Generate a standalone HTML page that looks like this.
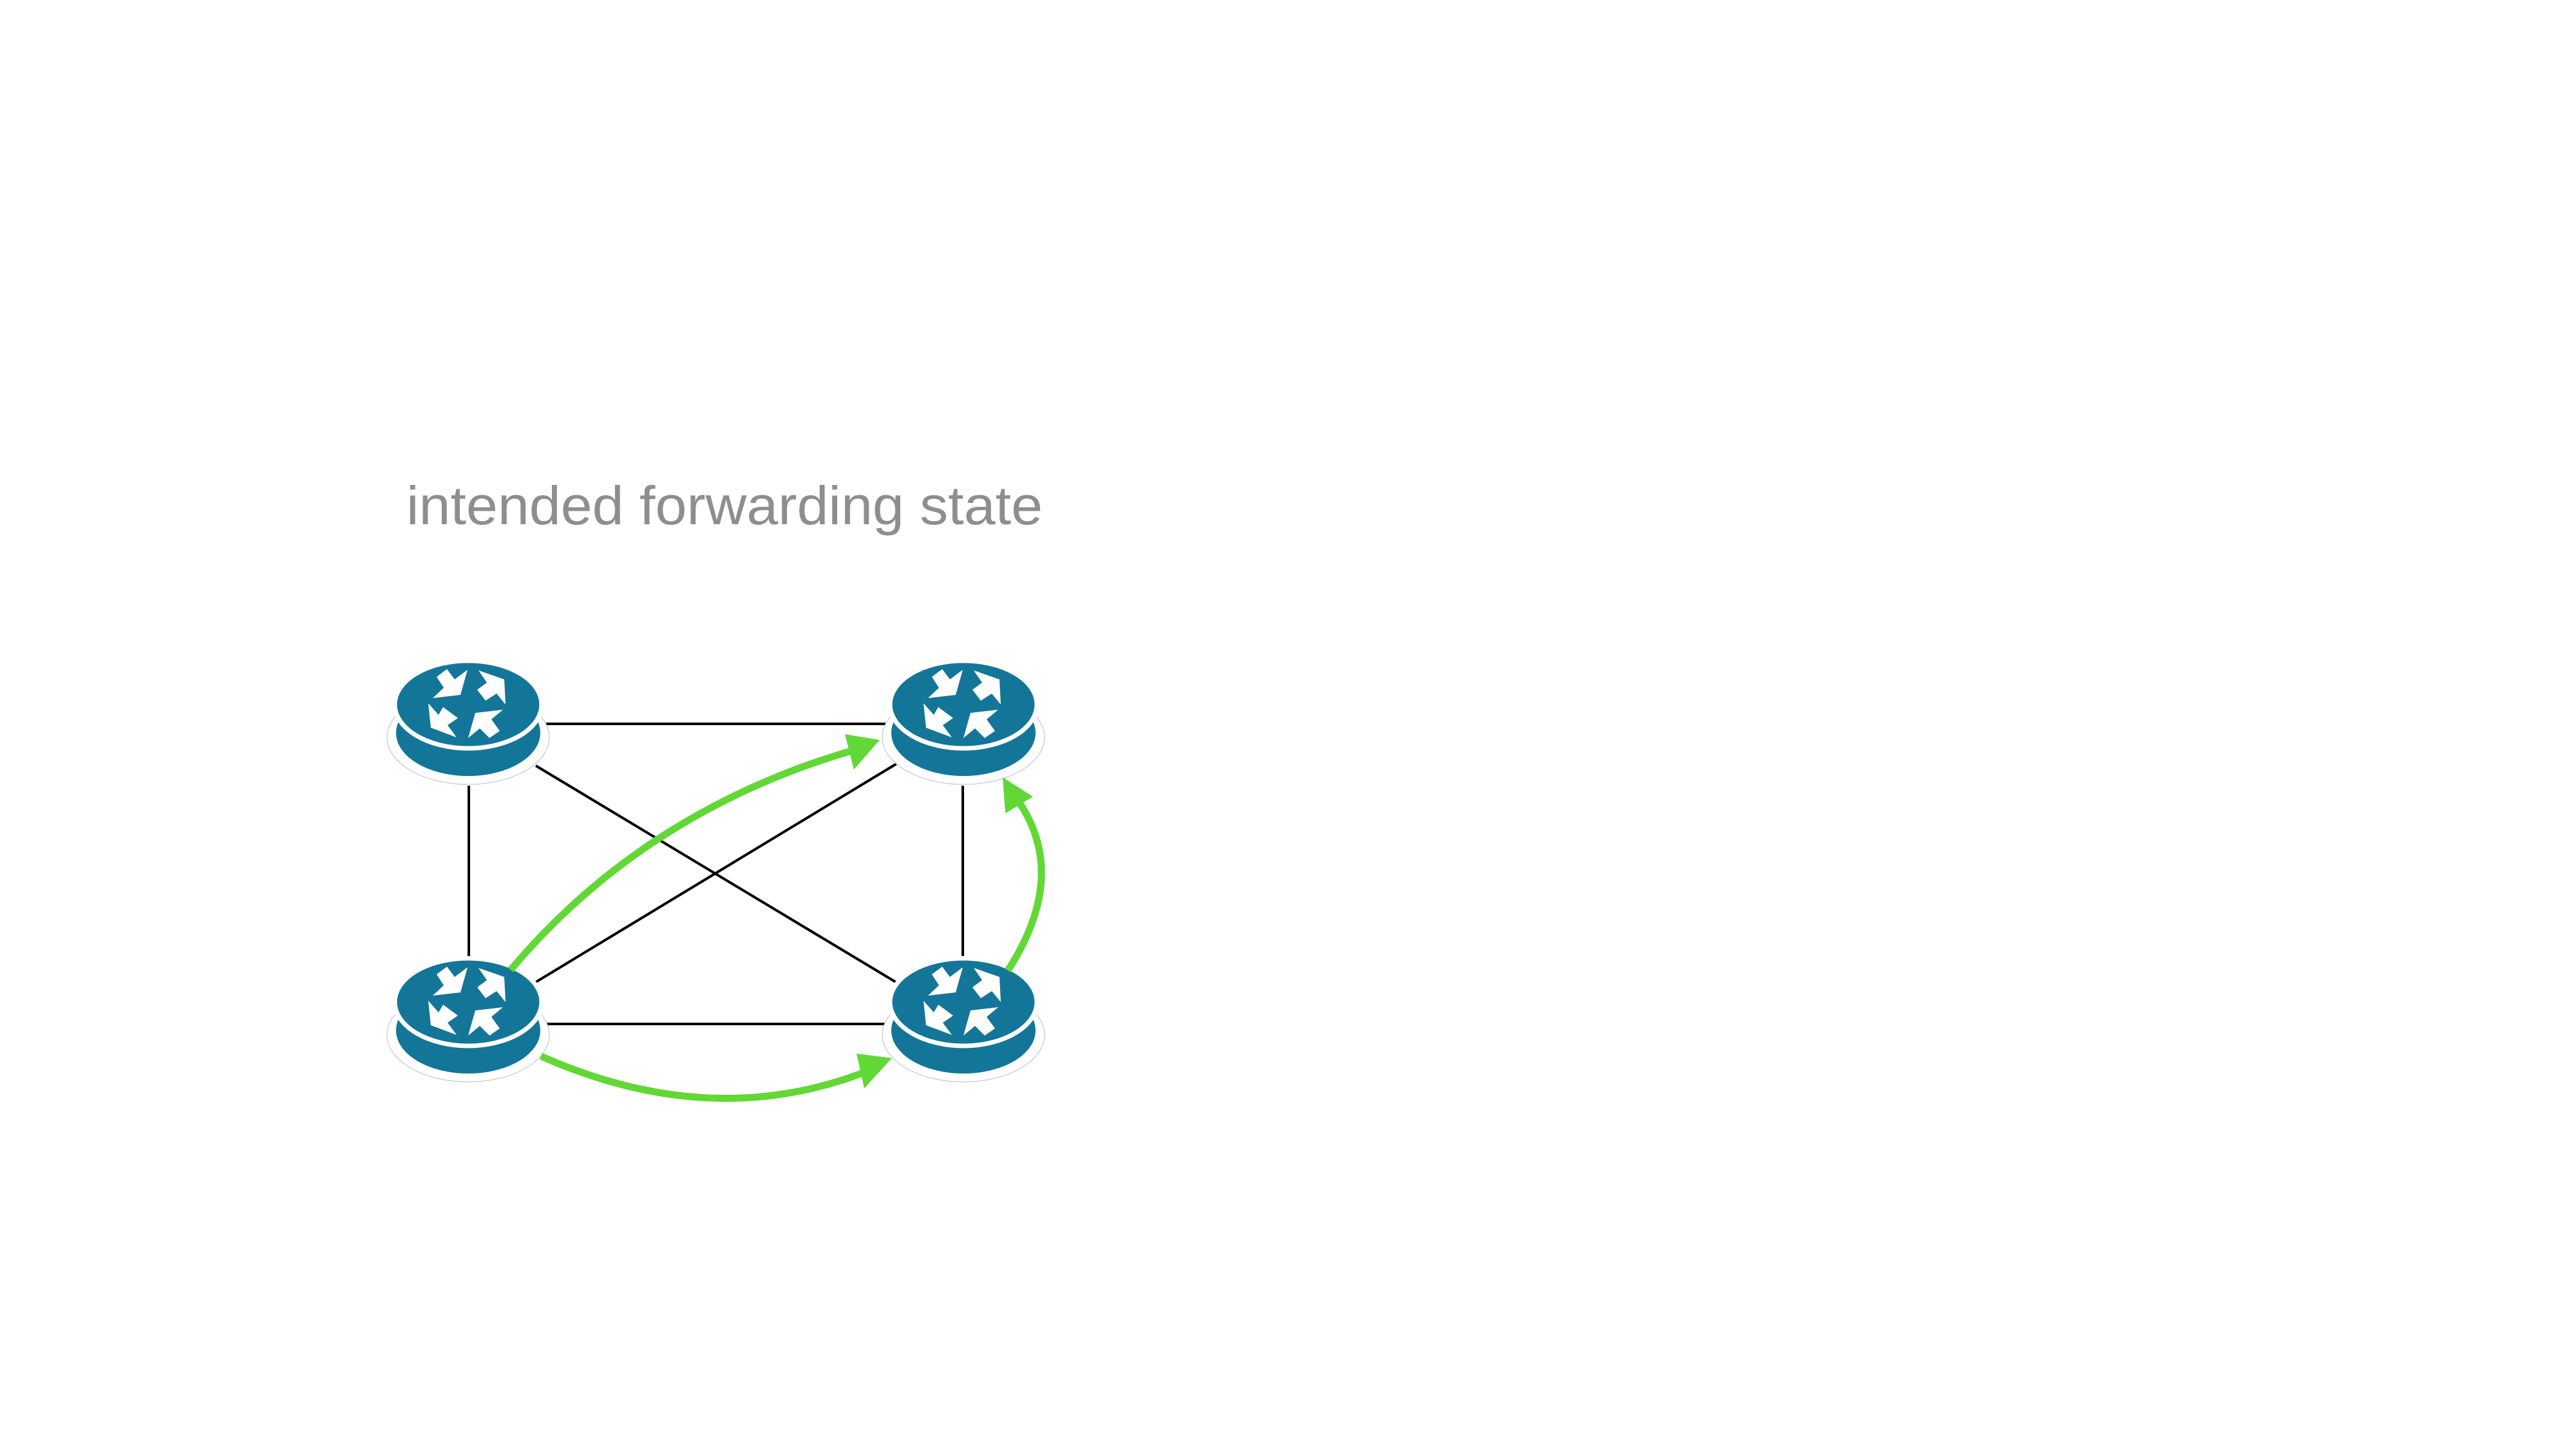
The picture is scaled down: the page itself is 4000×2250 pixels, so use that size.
<!DOCTYPE html>
<html><head><meta charset="utf-8"><style>
html,body{margin:0;padding:0;background:#fff;}
svg{display:block;}
</style></head><body>
<svg width="4000" height="2250" viewBox="0 0 4000 2250" xmlns="http://www.w3.org/2000/svg">
<defs>
<g id="r">
  <ellipse cx="0" cy="51" rx="126" ry="73" fill="#fff" stroke="#c8c8c8" stroke-width="1.2"/>
  <ellipse cx="0" cy="44" rx="112" ry="67" fill="#137699"/>
  <ellipse cx="0" cy="0" rx="114" ry="68" fill="#137699" stroke="#fff" stroke-width="7"/>
  <g fill="#fff">
    <polygon points="-49,-43 -33,-55 -21,-39 -1,-54 -12,-15 -55,-10 -38,-26"/>
    <polygon points="16,-53 56,-39 58,0 44,-17 27,-6 14,-23 29,-34"/>
    <polygon points="-62,-2 -46,16 -39,4 -16,21 -32,32 -18,51 -58,36"/>
    <polygon points="11,13 54,8 36,23 49,41 33,52 18,37 0,52"/>
  </g>
</g>
</defs>
<text x="631" y="814" font-family="Liberation Sans, sans-serif" font-size="84" fill="#8e8e8e" textLength="988" lengthAdjust="spacingAndGlyphs">intended forwarding state</text>
<g stroke="#000" stroke-width="4" fill="none">
  <line x1="848" y1="1124" x2="1375" y2="1124"/>
  <line x1="848" y1="1590" x2="1375" y2="1590"/>
  <line x1="728" y1="1220" x2="728" y2="1494"/>
  <line x1="1495" y1="1220" x2="1495" y2="1494"/>
  <line x1="832" y1="1189" x2="1396" y2="1528"/>
  <line x1="827" y1="1528" x2="1392" y2="1186"/>
</g>
<use href="#r" x="727" y="1094"/>
<use href="#r" x="1496" y="1094"/>
<use href="#r" x="727" y="1556"/>
<use href="#r" x="1496" y="1556"/>
<g stroke="#62d836" stroke-width="11" fill="none">
  <path d="M793,1506 Q1000,1260 1325,1165"/>
  <path d="M840,1640 Q1110,1760 1355,1660"/>
  <path d="M1565,1507 Q1660,1360 1582,1245"/>
</g>
<g fill="#62d836">
  <polygon points="1366,1149 1312,1140 1326,1195"/>
  <polygon points="1385,1643 1330,1636 1342,1690"/>
  <polygon points="1557,1207 1561,1263 1604,1237"/>
</g>
</svg>
</body></html>
